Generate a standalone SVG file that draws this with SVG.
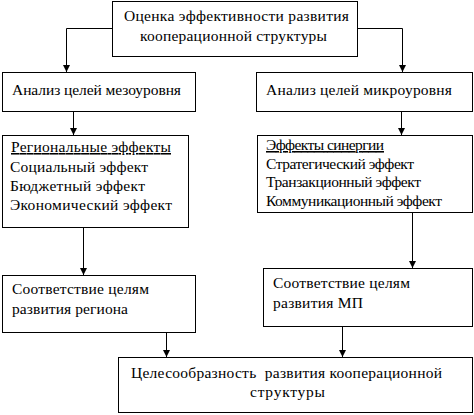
<svg xmlns="http://www.w3.org/2000/svg" width="474" height="415" viewBox="0 0 474 415">
<style>
rect{fill:#fff;stroke:#000;stroke-width:1}
text{font-family:'Liberation Serif','Times New Roman',serif;font-size:15.5px;fill:#000}
.u{text-decoration:underline}
#connectors path{fill:none;stroke:#000;stroke-width:1;marker-end:url(#arr)}
</style>
<defs>
<marker id="arr" markerUnits="userSpaceOnUse" markerWidth="8" markerHeight="7" refX="7" refY="3.5" orient="auto">
<path d="M0,0 L7,3.5 L0,7 z" fill="#000"/>
</marker>
</defs>
<g id="connectors">
<path d="M112,28.5 H66.5 V72"/>
<path d="M358,28.5 H402.5 V72"/>
<path d="M73.5,112 V135"/>
<path d="M401.5,112 V135"/>
<path d="M83.5,228 V275"/>
<path d="M412.5,213 V268"/>
<path d="M166.5,333 V357"/>
<path d="M342.5,327 V357"/>
</g>
<g id="n-top">
<rect x="112.5" y="1.5" width="245" height="55"/>
<text x="124" y="21" textLength="225" lengthAdjust="spacing">Оценка эффективности развития</text>
<text x="140" y="41" textLength="187" lengthAdjust="spacing">кооперационной структуры</text>
</g>
<g id="n-meso">
<rect x="2.5" y="72.5" width="193" height="39"/>
<text x="12" y="95" textLength="169" lengthAdjust="spacing">Анализ целей мезоуровня</text>
</g>
<g id="n-micro">
<rect x="256.5" y="72.5" width="216" height="39"/>
<text x="266" y="95" textLength="186" lengthAdjust="spacing">Анализ целей микроуровня</text>
</g>
<g id="n-regional">
<rect x="2.5" y="135.5" width="186" height="92"/>
<text class="u" x="11" y="152" textLength="160" lengthAdjust="spacing">Региональные эффекты</text>
<text x="10" y="171.5" textLength="138" lengthAdjust="spacing">Социальный эффект</text>
<text x="10" y="191" textLength="135" lengthAdjust="spacing">Бюджетный эффект</text>
<text x="10" y="210" textLength="162" lengthAdjust="spacing">Экономический эффект</text>
</g>
<g id="n-synergy">
<rect x="257.5" y="135.5" width="215" height="77"/>
<text class="u" x="266" y="150" textLength="118" lengthAdjust="spacing">Эффекты синергии</text>
<text x="266" y="168.5" textLength="148" lengthAdjust="spacing">Стратегический эффект</text>
<text x="266" y="187" textLength="155" lengthAdjust="spacing">Транзакционный эффект</text>
<text x="266" y="205.5" textLength="176" lengthAdjust="spacing">Коммуникационный эффект</text>
</g>
<g id="n-corr-region">
<rect x="2.5" y="275.5" width="193" height="57"/>
<text x="12" y="294" textLength="137" lengthAdjust="spacing">Соответствие целям</text>
<text x="12" y="314" textLength="116" lengthAdjust="spacing">развития региона</text>
</g>
<g id="n-corr-mp">
<rect x="263.5" y="268.5" width="209" height="58"/>
<text x="273" y="288" textLength="137" lengthAdjust="spacing">Соответствие целям</text>
<text x="273" y="308" textLength="90" lengthAdjust="spacing">развития МП</text>
</g>
<g id="n-final">
<rect x="118.5" y="357.5" width="354" height="55"/>
<text x="131" y="378" textLength="311" lengthAdjust="spacing" xml:space="preserve">Целесообразность  развития кооперационной</text>
<text x="250" y="397" textLength="75" lengthAdjust="spacing">структуры</text>
</g>
</svg>
